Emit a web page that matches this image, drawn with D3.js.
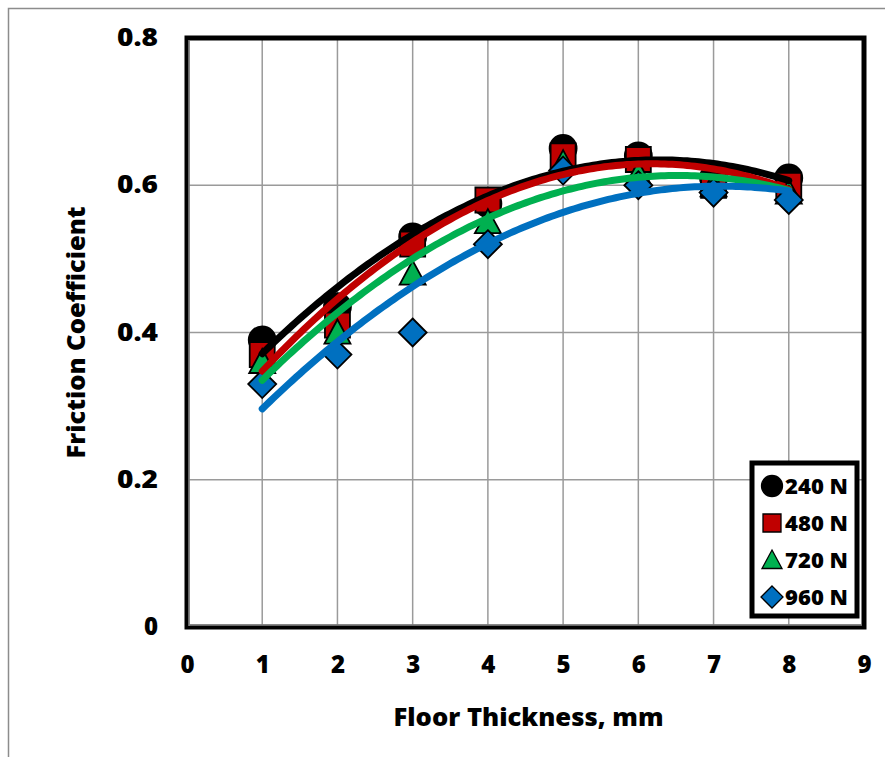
<!DOCTYPE html>
<html><head><meta charset="utf-8">
<script src="https://cdn.jsdelivr.net/npm/d3@7"></script>
<style>body{margin:0;background:#fff}svg{display:block}text{font-family:"Open Sans",sans-serif;font-weight:800}</style>
</head><body><svg id="c" width="885" height="757"></svg>
<script>
const thickness = [1,2,3,4,5,6,7,8];
const loads = ["240 N","480 N","720 N","960 N"];
const f240 = [0.39,0.435,0.53,0.575,0.65,0.64,0.61,0.61];
const f480 = [0.37,0.41,0.52,0.58,0.64,0.635,0.60,0.60];
const f720 = [0.36,0.40,0.48,0.55,0.63,0.615,0.60,0.59];
const f960 = [0.33,0.37,0.40,0.52,0.62,0.60,0.59,0.58];
const xTicks = [0,1,2,3,4,5,6,7,8,9];
const yTicks = [0,0.2,0.4,0.6,0.8];
const colors = ["#000000","#C00000","#00B050","#0070C0"];

const series = [f240,f480,f720,f960];
const svg = d3.select("#c");
const L=187,R=864,T=38,B=627;
const x = d3.scaleLinear().domain([0,9]).range([L,R]);
const y = d3.scaleLinear().domain([0,0.8]).range([B,T]);

function shape(i,s){
  const h=s/2;
  if(i===0){const p=d3.path();p.arc(0,0,h,0,2*Math.PI);return p.toString();}
  if(i===1) return `M${-h},${-h}H${h}V${h}H${-h}Z`;
  if(i===2) return `M0,${-h}L${h},${h*0.85}L${-h},${h*0.85}Z`;
  return `M0,${-h}L${h},0L0,${h}L${-h},0Z`;
}

svg.append("rect").attr("x",8.5).attr("y",8.5).attr("width",900).attr("height",800)
  .attr("fill","none").attr("stroke","#8c8c8c").attr("stroke-width",1.5);

const g = svg.append("g");
g.selectAll(".vx").data(xTicks.slice(1,-1)).join("line")
  .attr("x1",d=>x(d)).attr("x2",d=>x(d)).attr("y1",T).attr("y2",B)
  .attr("stroke","#9a9a9a").attr("stroke-width",1.5);
g.selectAll(".hy").data(yTicks.slice(1,-1)).join("line")
  .attr("y1",d=>y(d)).attr("y2",d=>y(d)).attr("x1",L).attr("x2",R)
  .attr("stroke","#9a9a9a").attr("stroke-width",1.5);

svg.append("rect").attr("x",L).attr("y",T).attr("width",R-L).attr("height",B-T)
  .attr("fill","none").attr("stroke","#000").attr("stroke-width",5);
svg.append("line").attr("x1",L+2).attr("x2",L+2).attr("y1",T+2).attr("y2",B-1)
  .attr("stroke","#8a8a8a").attr("stroke-width",1.5);
svg.append("line").attr("x1",L+2).attr("x2",R-2).attr("y1",B-2).attr("y2",B-2)
  .attr("stroke","#8a8a8a").attr("stroke-width",1.5);

const xAxis = svg.append("g").attr("transform",`translate(0,${B})`)
  .call(d3.axisBottom(x).tickValues(xTicks).tickSize(0).tickPadding(29).tickFormat(d3.format("d")));
xAxis.select(".domain").remove();
xAxis.selectAll("text").attr("font-size",24).attr("fill","#000")
  .style("font-family","'Open Sans',sans-serif").style("font-weight","800");
const yAxis = svg.append("g").attr("transform",`translate(${L},0)`)
  .call(d3.axisLeft(y).tickValues(yTicks).tickSize(0).tickPadding(29).tickFormat(d=>d===0?"0":d3.format(".1f")(d)));
yAxis.select(".domain").remove();
yAxis.selectAll("text").attr("font-size",24).attr("fill","#000")
  .style("font-family","'Open Sans',sans-serif").style("font-weight","800")
  .attr("textLength",d=>d===0?null:41).attr("lengthAdjust","spacingAndGlyphs");

svg.append("text").attr("x",(L+R)/2+3).attr("y",726).attr("text-anchor","middle")
  .attr("font-size",25).attr("textLength",270).attr("lengthAdjust","spacingAndGlyphs").text("Floor Thickness, mm");
svg.append("text").attr("transform",`translate(85,${(T+B)/2}) rotate(-90)`).attr("text-anchor","middle")
  .attr("font-size",25).attr("textLength",252).attr("lengthAdjust","spacingAndGlyphs").text("Friction Coefficient");

const sizes=[27,25,26,28];
series.forEach((s,i)=>{
  svg.append("g").selectAll("path").data(s).join("path")
    .attr("transform",(d,j)=>`translate(${x(thickness[j])},${y(d)})`)
    .attr("d",shape(i,sizes[i]))
    .attr("fill",colors[i]).attr("stroke","#000").attr("stroke-width",1.8);
});

function quadFit(xs,ys){
  let S=[0,0,0,0,0],T2=[0,0,0];
  xs.forEach((xv,k)=>{for(let p=0;p<5;p++)S[p]+=Math.pow(xv,p);for(let p=0;p<3;p++)T2[p]+=ys[k]*Math.pow(xv,p);});
  const A=[[S[0],S[1],S[2],T2[0]],[S[1],S[2],S[3],T2[1]],[S[2],S[3],S[4],T2[2]]];
  for(let i=0;i<3;i++){for(let k=i+1;k<3;k++){const f=A[k][i]/A[i][i];for(let j=i;j<4;j++)A[k][j]-=f*A[i][j];}}
  const c=[0,0,0];
  for(let i=2;i>=0;i--){let s=A[i][3];for(let j=i+1;j<3;j++)s-=A[i][j]*c[j];c[i]=s/A[i][i];}
  return c;
}
const line = d3.line().x(d=>x(d[0])).y(d=>y(d[1]));
series.forEach((s,i)=>{
  const c=quadFit(thickness,s);
  const pts=d3.range(1,8.001,0.05).map(t=>[t,c[0]+c[1]*t+c[2]*t*t]);
  svg.append("path").datum(pts).attr("d",line).attr("fill","none")
    .attr("stroke",colors[i]).attr("stroke-width",7).attr("stroke-linecap","round");
});

const lg = svg.append("g");
lg.append("rect").attr("x",752).attr("y",463).attr("width",105).attr("height",153)
  .attr("fill","#fff").attr("stroke","#000").attr("stroke-width",5);
loads.forEach((l,i)=>{
  const yy=486+i*37;
  lg.append("path").attr("transform",`translate(772,${yy})`)
    .attr("d",shape(i,[21,18,20,22][i]))
    .attr("fill",colors[i]).attr("stroke","#000").attr("stroke-width",1.3);
  lg.append("text").attr("x",785).attr("y",yy+8).attr("font-size",21)
    .attr("textLength",63).attr("lengthAdjust","spacingAndGlyphs").text(l);
});
</script></body></html>
